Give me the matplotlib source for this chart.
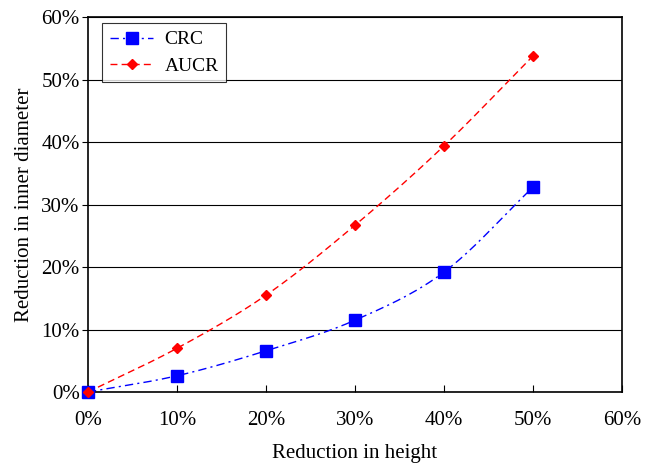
import matplotlib.pyplot as plt
import numpy as np
from matplotlib.ticker import PercentFormatter

plt.rcParams['font.family'] = ['Liberation Serif', 'DejaVu Serif']

height = [0, 10, 20, 30, 40, 50]
crc = [0, 2.6, 6.6, 11.5, 19.2, 32.8]
aucr = [0, 7.0, 15.5, 26.7, 39.4, 53.8]


def smooth(x, y, n=30):
    # Catmull-Rom curve through the points, like a spreadsheet smoothed line
    x = np.asarray(x, float)
    y = np.asarray(y, float)
    px = np.concatenate([[2 * x[0] - x[1]], x, [2 * x[-1] - x[-2]]])
    py = np.concatenate([[2 * y[0] - y[1]], y, [2 * y[-1] - y[-2]]])
    t = np.linspace(0, 1, n)
    xs, ys = [], []
    for i in range(1, len(px) - 2):
        for p, out in ((px, xs), (py, ys)):
            p0, p1, p2, p3 = p[i - 1], p[i], p[i + 1], p[i + 2]
            out.append(0.5 * (2 * p1 + (-p0 + p2) * t
                              + (2 * p0 - 5 * p1 + 4 * p2 - p3) * t ** 2
                              + (-p0 + 3 * p1 - 3 * p2 + p3) * t ** 3))
    return np.concatenate(xs), np.concatenate(ys)


fig = plt.figure(figsize=(6.59, 4.63), dpi=100)
ax = fig.add_axes([0.1335, 0.1533, 0.8105, 0.8097])

ax.yaxis.grid(True, color='black', linewidth=0.8)
ax.set_axisbelow(True)

sx, sy = smooth(height, crc)
ax.plot(sx, sy, color='blue', linestyle='-.', linewidth=1.0, dashes=(6, 3, 1.5, 3))
sx, sy = smooth(height, aucr)
ax.plot(sx, sy, color='red', linestyle='--', linewidth=1.0, dashes=(5, 3))

ax.plot(height, crc, 's', color='blue', markersize=8, linestyle='none', clip_on=False, zorder=3)
ax.plot(height, aucr, 'D', color='red', markersize=5, linestyle='none', clip_on=False, zorder=4)

# legend handles
h1, = ax.plot([], [], color='blue', linestyle='-.', marker='s', markersize=8,
              linewidth=1.0, dashes=(6, 3, 1.5, 3))
h2, = ax.plot([], [], color='red', linestyle='--', marker='D', markersize=5,
              linewidth=1.0, dashes=(5, 3))
leg = ax.legend([h1, h2], ['CRC', 'AUCR'], loc='upper left', fontsize=14,
                frameon=True, fancybox=False, edgecolor='black',
                bbox_to_anchor=(0.016, 1.0), borderaxespad=0.3,
                handlelength=2.2, handletextpad=0.6, labelspacing=0.45, borderpad=0.4)
leg.get_frame().set_linewidth(0.8)

ax.set_xlim(0, 60)
ax.set_ylim(0, 60)
ax.set_xticks(range(0, 61, 10))
ax.set_yticks(range(0, 61, 10))
ax.xaxis.set_major_formatter(PercentFormatter(decimals=0))
ax.yaxis.set_major_formatter(PercentFormatter(decimals=0))
ax.tick_params(axis='x', direction='in', length=5, labelsize=15, pad=14)
ax.tick_params(axis='y', direction='out', length=4, labelsize=15, pad=2)
for s in ax.spines.values():
    s.set_linewidth(1.2)

ax.set_xlabel('Reduction in height', fontsize=15, labelpad=10)
ax.set_ylabel('Reduction in inner diameter', fontsize=15, labelpad=5)

plt.savefig('out.png', dpi=100)
